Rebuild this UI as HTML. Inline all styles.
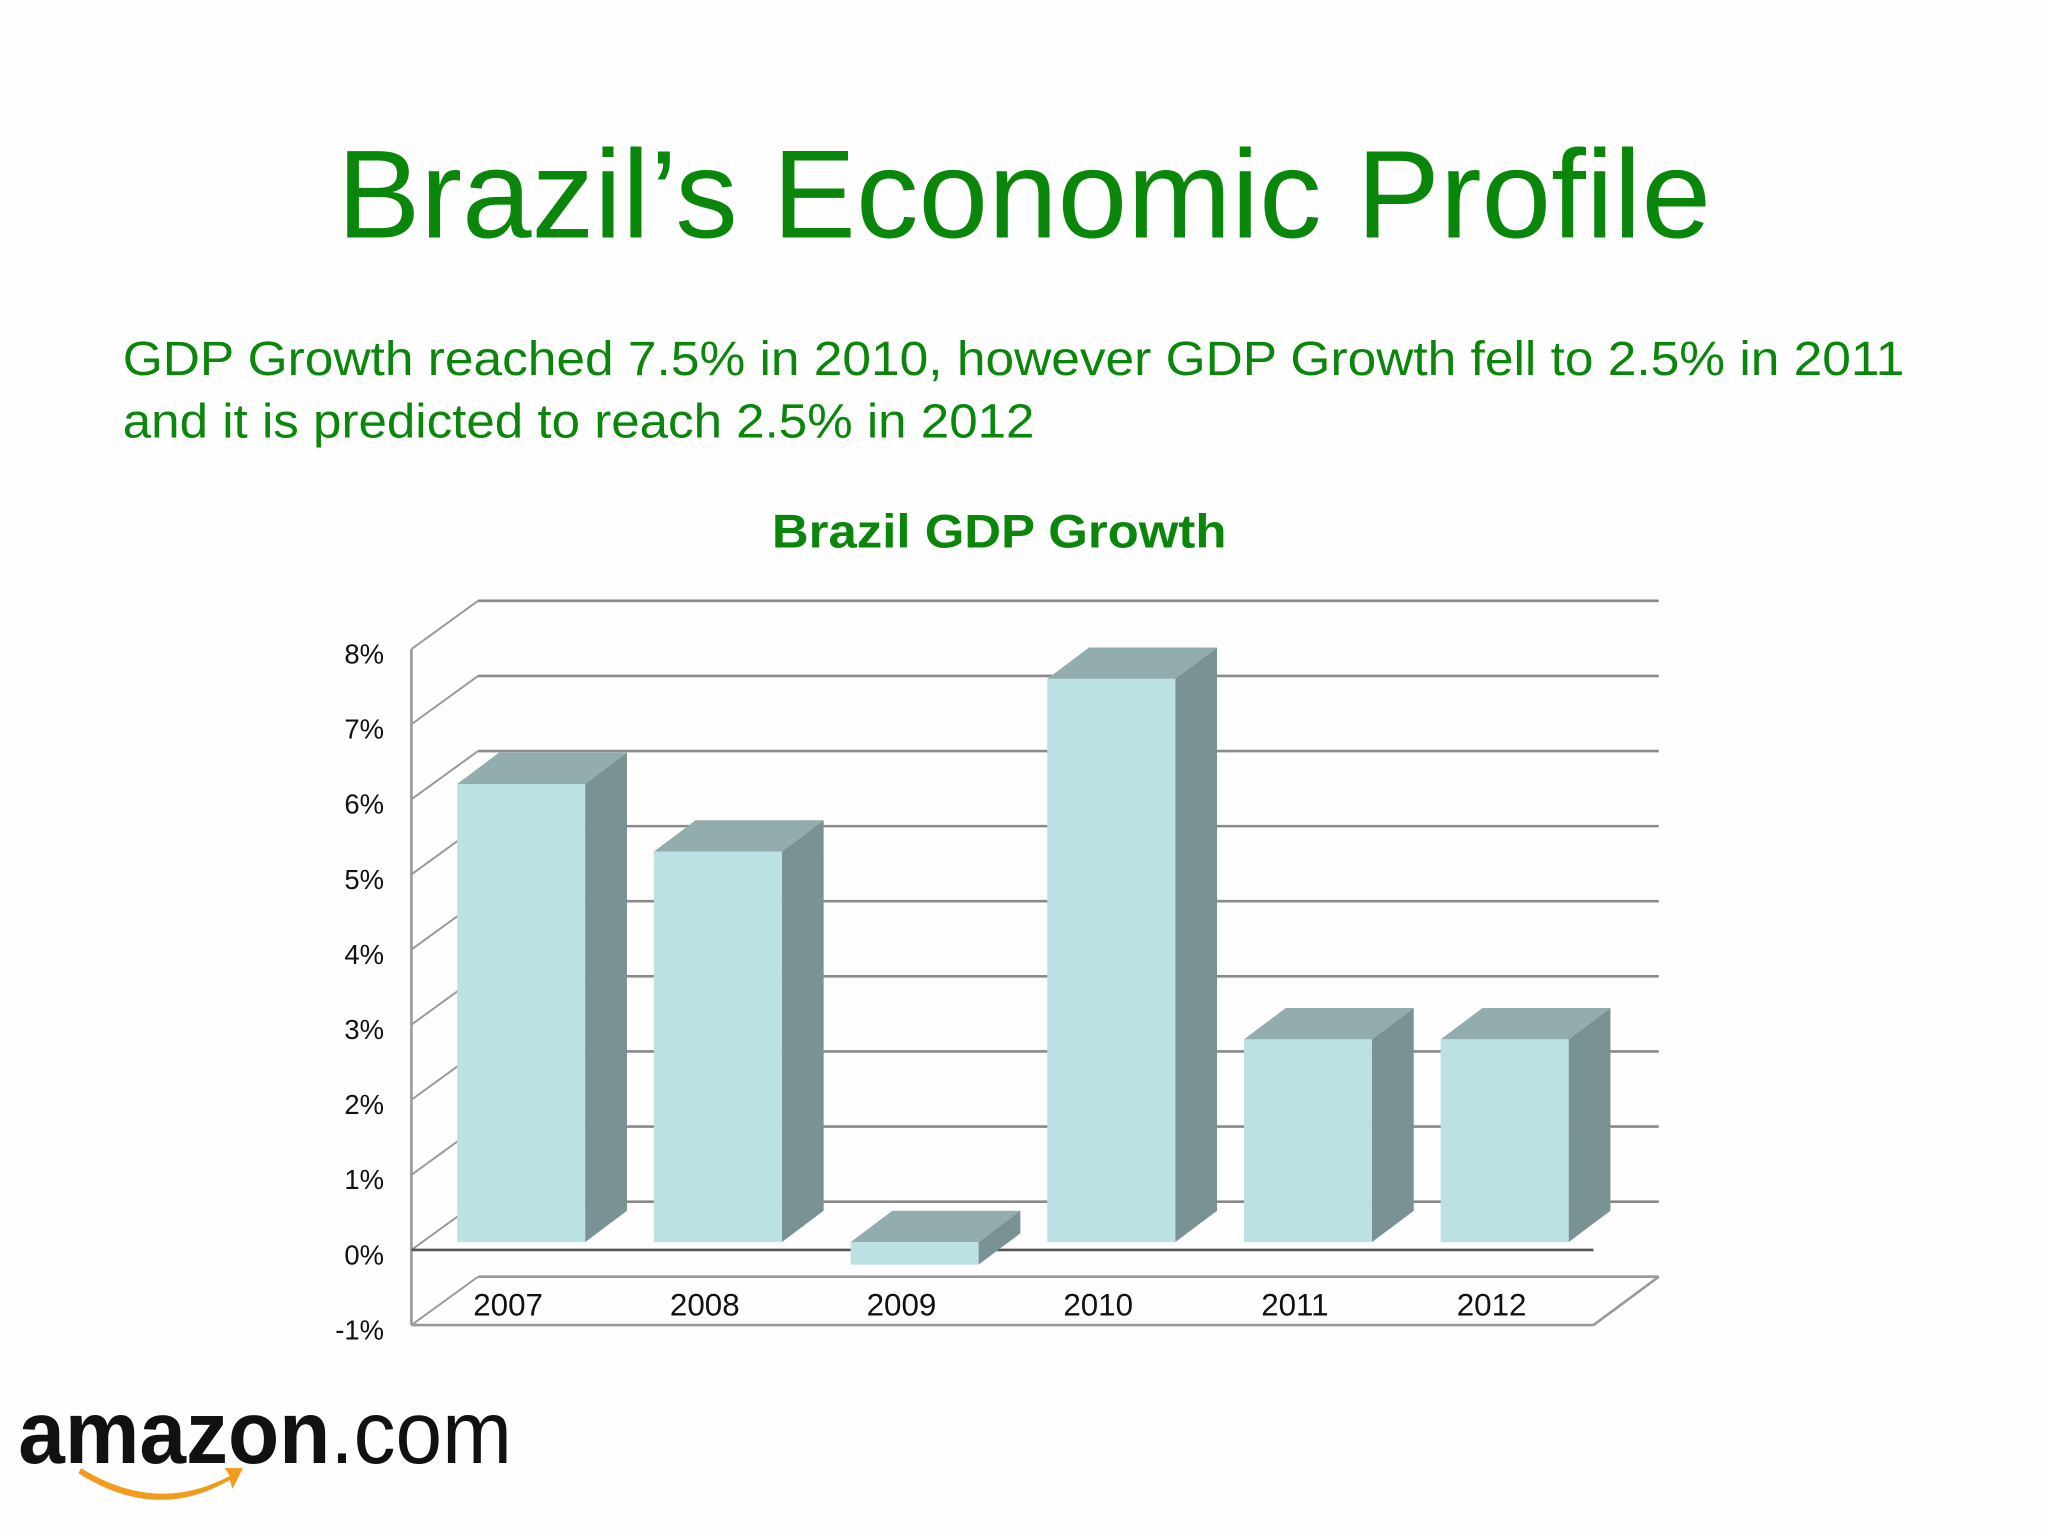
<!DOCTYPE html>
<html><head><meta charset="utf-8"><style>
html,body{margin:0;padding:0;background:#fff;}
svg{display:block;}
text{font-family:"Liberation Sans",sans-serif;}
</style></head><body>
<svg id="slide" width="2048" height="1536" viewBox="0 0 1568 1176" xmlns="http://www.w3.org/2000/svg">
<rect width="1568" height="1176" fill="#fefefe"/>
<text x="784" y="182" text-anchor="middle" font-size="96" fill="#0a870a" textLength="1052" lengthAdjust="spacingAndGlyphs">Brazil’s Economic Profile</text>
<text x="94" y="287" font-size="37" fill="#0a870a" textLength="1364" lengthAdjust="spacingAndGlyphs">GDP Growth reached 7.5% in 2010, however  GDP Growth fell to 2.5% in 2011</text>
<text x="94" y="335" font-size="37" fill="#0a870a" textLength="698" lengthAdjust="spacingAndGlyphs">and it is predicted to reach 2.5% in 2012</text>
<text x="765" y="419" text-anchor="middle" font-size="36" font-weight="bold" fill="#0a870a" textLength="348" lengthAdjust="spacingAndGlyphs">Brazil GDP Growth</text>
<g id="chart"></g>
<g>
<text x="14" y="1120" font-size="68" fill="#111" textLength="378" lengthAdjust="spacingAndGlyphs"><tspan font-weight="bold">amazon</tspan><tspan>.com</tspan></text>
<path d="M62,1124 Q120,1160 176,1130 L172,1124 L186,1124 L178,1140 L176,1133 Q120,1166 60,1128 Z" fill="#f29b1d"/>
</g>
</svg>
<script>
const categories = ["2007","2008","2009","2010","2011","2012"];
const values = [6.1, 5.2, -0.3, 7.5, 2.7, 2.7];
const tickValues = [-1,0,1,2,3,4,5,6,7,8];
const tickLabels = ["-1%","0%","1%","2%","3%","4%","5%","6%","7%","8%"];

const NS="http://www.w3.org/2000/svg";
const g=document.getElementById('chart');
const yFront=v=>957-(v*57.5);
const yBar=v=>951-(v*57.5);
const DX=51, DY=-37, BDX=32, BDY=-24;
const xBar=i=>350+i*150.6;
const BW=98;
function mk(tag,attrs){const e=document.createElementNS(NS,tag);for(const k in attrs)e.setAttribute(k,attrs[k]);g.appendChild(e);return e;}

tickValues.forEach((v,i)=>{
  const y=yFront(v);
  if(v>=0){
    const l=mk('line',{x1:315+DX,y1:y+DY,x2:1270,y2:y+DY,stroke:'#8a8a8a','stroke-width':2});
    
    
  }
  const d=mk('line',{x1:315,y1:y,x2:315+DX,y2:y+DY,stroke:'#999','stroke-width':1.5});
  
  
  const t=mk('text',{x:294,y:y+11,'text-anchor':'end','font-size':21,fill:'#111'});
  t.textContent=tickLabels[i];
  
  
});
const ax=mk('line',{x1:315,y1:yFront(8),x2:315,y2:yFront(-1),stroke:'#999','stroke-width':2});


const fl=mk('path',{d:`M315,${yFront(-1)} L1220,${yFront(-1)} L1270,${yFront(-1)+DY} M${315+DX},${yFront(-1)+DY} L1270,${yFront(-1)+DY}`,fill:'none',stroke:'#999','stroke-width':2});


const zl=mk('line',{x1:315,y1:yFront(0),x2:1220,y2:yFront(0),stroke:'#555','stroke-width':2});



values.forEach((v,i)=>{
  const x=xBar(i), yt=yBar(Math.max(v,0)), yb=yBar(Math.min(v,0));
  const top=mk('polygon',{points:`${x},${yt} ${x+BDX},${yt+BDY} ${x+BW+BDX},${yt+BDY} ${x+BW},${yt}`,fill:'#93acad'});
  
  
  const side=mk('polygon',{points:`${x+BW},${yt} ${x+BW+BDX},${yt+BDY} ${x+BW+BDX},${yb+BDY} ${x+BW},${yb}`,fill:'#7a9293'});
  
  
  const fr=mk('rect',{x:x,y:yt,width:BW,height:yb-yt,fill:'#bbe1e4'});
  
  
  const t=mk('text',{x:x+BW/2-10,y:1007,'text-anchor':'middle','font-size':24,fill:'#111'});
  t.textContent=categories[i];
  
  
});
</script>
</body></html>
